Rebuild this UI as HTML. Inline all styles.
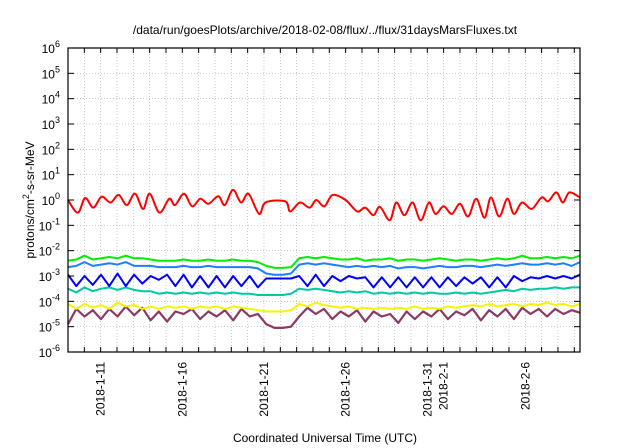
<!DOCTYPE html>
<html><head><meta charset="utf-8"><style>
html,body{margin:0;padding:0;background:#fff;}
svg{display:block;font-family:"Liberation Sans",sans-serif;}
</style></head><body>
<svg id="chart" width="640" height="448" viewBox="0 0 640 448" xmlns="http://www.w3.org/2000/svg">
<text x="325" y="34" font-size="12" text-anchor="middle">/data/run/goesPlots/archive/2018-02-08/flux/../flux/31daysMarsFluxes.txt</text>
<text transform="translate(34,200) rotate(-90)" font-size="12" text-anchor="middle">protons/cm<tspan dy="-5" font-size="9">2</tspan><tspan dy="5">-s-sr-MeV</tspan></text>
<text x="325" y="442" font-size="12" text-anchor="middle">Coordinated Universal Time (UTC)</text>
<g id="grid"></g><g id="series"></g><g id="axes"></g>
</svg>
<script>
const yDecades=[-6,-5,-4,-3,-2,-1,0,1,2,3,4,5,6];
const xTickDays=[2,7,12,17,22,23,28];
const xTickLabels=["2018-1-11","2018-1-16","2018-1-21","2018-1-26","2018-1-31","2018-2-1","2018-2-6"];
const redDays=[0,0.6,1.05,1.55,2.06,2.6,3.1,3.6,4.1,4.6,5.0,5.6,6.2,6.55,7.1,7.6,8.1,8.6,9.2,9.6,10.1,10.6,11.05,11.7,12.1,13.3,13.6,14.2,14.8,15.2,15.7,16.2,17.0,17.7,18.2,18.7,19.1,19.7,20.1,20.6,21.1,21.6,22.1,22.5,23.0,23.5,24.0,24.5,25.0,25.5,25.9,26.4,26.9,27.3,27.8,28.4,29.0,29.4,29.9,30.3,30.7,31.35];
const redLog=[0.0,-0.5,0.08,-0.3,0.13,-0.1,0.2,-0.2,0.25,-0.35,0.25,-0.5,0.05,-0.2,0.25,-0.25,0.05,-0.15,0.15,-0.2,0.4,-0.1,0.25,-0.55,-0.1,-0.05,-0.45,-0.1,-0.3,0.0,-0.25,0.2,0.0,-0.45,-0.3,-0.6,-0.27,-0.8,-0.1,-0.6,-0.1,-0.8,-0.1,-0.55,-0.25,-0.55,-0.15,-0.65,0.05,-0.7,0.1,-0.65,0.05,-0.55,-0.1,-0.35,0.1,-0.05,0.3,-0.1,0.3,0.1];
const greenLog=[-2.4,-2.35,-2.2,-2.35,-2.3,-2.25,-2.3,-2.2,-2.3,-2.3,-2.35,-2.4,-2.4,-2.4,-2.35,-2.4,-2.4,-2.35,-2.4,-2.4,-2.35,-2.4,-2.4,-2.45,-2.6,-2.68,-2.68,-2.65,-2.3,-2.25,-2.3,-2.25,-2.3,-2.35,-2.35,-2.3,-2.4,-2.35,-2.35,-2.3,-2.4,-2.35,-2.35,-2.4,-2.35,-2.3,-2.35,-2.4,-2.35,-2.35,-2.4,-2.35,-2.3,-2.35,-2.3,-2.2,-2.3,-2.3,-2.25,-2.3,-2.25,-2.3,-2.2];
const lightBlueLog=[-2.65,-2.6,-2.45,-2.6,-2.55,-2.5,-2.55,-2.45,-2.6,-2.6,-2.6,-2.65,-2.65,-2.65,-2.6,-2.65,-2.65,-2.6,-2.65,-2.65,-2.65,-2.65,-2.65,-2.7,-2.9,-2.95,-2.95,-2.9,-2.55,-2.5,-2.55,-2.5,-2.55,-2.6,-2.65,-2.6,-2.65,-2.6,-2.65,-2.6,-2.7,-2.65,-2.65,-2.7,-2.65,-2.6,-2.65,-2.65,-2.6,-2.6,-2.65,-2.6,-2.55,-2.6,-2.55,-2.5,-2.55,-2.55,-2.5,-2.55,-2.5,-2.6,-2.45];
const darkBlueLog=[-2.95,-3.4,-3.0,-3.35,-2.95,-3.4,-2.9,-3.4,-2.95,-3.3,-3.0,-3.15,-2.95,-3.4,-2.95,-3.45,-3.0,-3.45,-3.0,-3.45,-3.0,-3.4,-3.0,-3.45,-3.1,-3.1,-3.1,-3.1,-3.0,-3.4,-2.95,-3.4,-3.0,-3.2,-3.0,-3.1,-3.05,-3.45,-3.05,-3.45,-3.05,-3.45,-3.05,-3.45,-3.05,-3.45,-3.05,-3.4,-3.05,-3.3,-3.05,-3.45,-3.05,-3.45,-3.0,-3.2,-3.05,-3.1,-3.0,-3.1,-3.0,-3.1,-2.95];
const tealLog=[-3.5,-3.65,-3.45,-3.6,-3.5,-3.45,-3.55,-3.45,-3.55,-3.6,-3.6,-3.7,-3.65,-3.7,-3.65,-3.7,-3.65,-3.7,-3.65,-3.7,-3.65,-3.7,-3.7,-3.75,-3.75,-3.75,-3.75,-3.7,-3.5,-3.55,-3.5,-3.55,-3.6,-3.65,-3.6,-3.65,-3.6,-3.7,-3.65,-3.7,-3.65,-3.7,-3.65,-3.7,-3.65,-3.7,-3.7,-3.65,-3.7,-3.65,-3.7,-3.65,-3.6,-3.55,-3.6,-3.5,-3.55,-3.5,-3.5,-3.45,-3.5,-3.45,-3.45];
const yellowLog=[-4.1,-4.3,-4.1,-4.25,-4.15,-4.3,-4.05,-4.2,-4.15,-4.3,-4.2,-4.3,-4.2,-4.25,-4.2,-4.3,-4.2,-4.25,-4.2,-4.3,-4.2,-4.25,-4.3,-4.35,-4.4,-4.4,-4.4,-4.35,-4.1,-4.2,-4.05,-4.15,-4.2,-4.25,-4.2,-4.3,-4.25,-4.3,-4.25,-4.3,-4.25,-4.3,-4.2,-4.3,-4.25,-4.3,-4.2,-4.25,-4.2,-4.15,-4.2,-4.1,-4.2,-4.15,-4.1,-4.2,-4.1,-4.15,-4.05,-4.15,-4.1,-4.2,-4.1];
const purpleLog=[-4.9,-4.3,-4.6,-4.35,-4.7,-4.3,-4.6,-4.2,-4.55,-4.25,-4.75,-4.4,-4.8,-4.4,-4.5,-4.3,-4.7,-4.4,-4.6,-4.35,-4.75,-4.3,-4.6,-4.5,-4.9,-5.05,-5.05,-5.0,-4.6,-4.25,-4.5,-4.3,-4.7,-4.4,-4.6,-4.35,-4.8,-4.4,-4.6,-4.5,-4.85,-4.4,-4.7,-4.4,-4.6,-4.3,-4.7,-4.4,-4.55,-4.3,-4.75,-4.35,-4.6,-4.3,-4.7,-4.25,-4.5,-4.3,-4.6,-4.3,-4.5,-4.35,-4.45];

const L=68,R=580,T=48,B=352,DAYS=31.35;
const NS="http://www.w3.org/2000/svg";
function xs(d){return L+d*(R-L)/DAYS;}
function ys(l){return B-(l+6)*(B-T)/12;}
function mk(tag,attrs,parent){const e=document.createElementNS(NS,tag);for(const k in attrs)e.setAttribute(k,attrs[k]);parent.appendChild(e);return e;}
const grid=document.getElementById('grid'),axes=document.getElementById('axes'),ser=document.getElementById('series');
for(let d=1;d<DAYS;d++){
  const g=mk('line',{x1:xs(d),x2:xs(d),y1:T,y2:B,stroke:'#aaa','stroke-width':0.6,'stroke-dasharray':'1,2'},grid);
  
  
  const t1=mk('line',{x1:xs(d),x2:xs(d),y1:B,y2:B-5,stroke:'#000','stroke-width':1},axes);
  
  
  const t2=mk('line',{x1:xs(d),x2:xs(d),y1:T,y2:T+5,stroke:'#000','stroke-width':1},axes);
  
  
}
yDecades.forEach(p=>{
  const y=ys(p);
  if(p>-6&&p<6){
    const g=mk('line',{x1:L,x2:R,y1:y,y2:y,stroke:'#aaa','stroke-width':0.6,'stroke-dasharray':'1,2'},grid);
    
    
    const a=mk('line',{x1:L,x2:L+6,y1:y,y2:y,stroke:'#000'},axes);
    
    
    const b=mk('line',{x1:R,x2:R-6,y1:y,y2:y,stroke:'#000'},axes);
    
    
  }
  const t=mk('text',{x:L-8,y:y+5,'font-size':12,'text-anchor':'end'},axes);
  
  
  const base=document.createElementNS(NS,'tspan');base.textContent='10';t.appendChild(base);
  const sup=document.createElementNS(NS,'tspan');sup.setAttribute('dy','-6');sup.setAttribute('font-size','9');sup.textContent=String(p);t.appendChild(sup);
});
xTickDays.forEach((d,i)=>{
  const x=xs(d);
  const t=mk('text',{transform:`translate(${x+4},362) rotate(-90)`,'font-size':12,'text-anchor':'end'},axes);
  
  
  t.textContent=xTickLabels[i];
});
const frame=mk('rect',{x:L,y:T,width:R-L,height:B-T,fill:'none',stroke:'#000','stroke-width':1.2},axes);


function draw(days,vals,color,name,w,smooth){
  const P=vals.map((v,i)=>[xs(days?days[i]:i*DAYS/(vals.length-1)),ys(v)]);
  let d='M'+P[0][0].toFixed(1)+','+P[0][1].toFixed(1);
  for(let i=0;i<P.length-1;i++){
    if(smooth){
      const p0=P[Math.max(0,i-1)],p1=P[i],p2=P[i+1],p3=P[Math.min(P.length-1,i+2)];
      const c1=[p1[0]+(p2[0]-p0[0])/6,p1[1]+(p2[1]-p0[1])/6];
      const c2=[p2[0]-(p3[0]-p1[0])/6,p2[1]-(p3[1]-p1[1])/6];
      d+=` C${c1[0].toFixed(1)},${c1[1].toFixed(1)} ${c2[0].toFixed(1)},${c2[1].toFixed(1)} ${p2[0].toFixed(1)},${p2[1].toFixed(1)}`;
    } else d+=` L${P[i+1][0].toFixed(1)},${P[i+1][1].toFixed(1)}`;
  }
  const p=mk('path',{d:d,fill:'none',stroke:color,'stroke-width':w,'stroke-linejoin':'round'},ser);
  
  
}
draw(null,purpleLog,'#8b3a62','series-purple',2.2,false);
draw(null,yellowLog,'#f5f500','series-yellow',2,false);
draw(null,tealLog,'#00c8a0','series-teal',2,false);
draw(null,darkBlueLog,'#0000ff','series-dark-blue',2,false);
draw(null,lightBlueLog,'#1e7fff','series-light-blue',2,false);
draw(null,greenLog,'#00ee00','series-green',2,false);
draw(redDays,redLog,'#ff0000','series-red',2,true);
</script>
</body></html>
